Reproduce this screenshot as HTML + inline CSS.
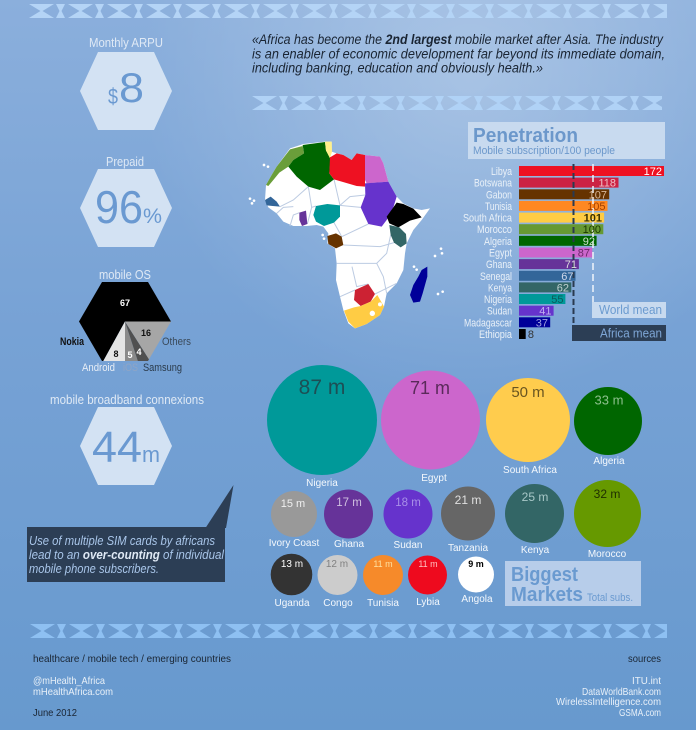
<!DOCTYPE html>
<html><head><meta charset="utf-8"><style>
html,body{margin:0;padding:0;background:#7aa3d5;}
svg{display:block;}
text{font-family:"Liberation Sans",sans-serif;}
</style></head><body>
<svg width="696" height="730" viewBox="0 0 696 730" xmlns="http://www.w3.org/2000/svg">
<defs>
<linearGradient id="bg" x1="0" y1="0" x2="0" y2="1">
<stop offset="0" stop-color="#8bafdc"/><stop offset="0.45" stop-color="#77a2d5"/><stop offset="1" stop-color="#6799ce"/>
</linearGradient>
<radialGradient id="hl" cx="470" cy="70" r="330" gradientUnits="userSpaceOnUse">
<stop offset="0" stop-color="#ffffff" stop-opacity="0.28"/><stop offset="1" stop-color="#ffffff" stop-opacity="0"/>
</radialGradient>
<pattern id="p1" x="27" y="4" width="39" height="14" patternUnits="userSpaceOnUse">
<polygon points="2,0 27,0 15.5,7 27,14 2,14 13.5,7" fill="#b4d4f6"/>
<polygon points="29,0 38,0 34.5,7 38,14 29,14 32.5,7" fill="#b4d4f6"/>
</pattern>
<pattern id="p2" x="250" y="96" width="39" height="14" patternUnits="userSpaceOnUse">
<polygon points="2,0 27,0 15.5,7 27,14 2,14 13.5,7" fill="#b0d2f6"/>
<polygon points="29,0 38,0 34.5,7 38,14 29,14 32.5,7" fill="#b0d2f6"/>
</pattern>
<pattern id="p3" x="28" y="624" width="39" height="14" patternUnits="userSpaceOnUse">
<polygon points="2,0 27,0 15.5,7 27,14 2,14 13.5,7" fill="#8ec0f2"/>
<polygon points="29,0 38,0 34.5,7 38,14 29,14 32.5,7" fill="#8ec0f2"/>
</pattern>
<clipPath id="hexclip"><polygon points="79,321.5 102,282 148,282 171,321.5 148,361 102,361"/></clipPath>
</defs>

<rect width="696" height="730" fill="url(#bg)"/>
<rect width="696" height="730" fill="url(#hl)"/>

<!-- strips -->
<rect x="27" y="4" width="640" height="14" fill="url(#p1)"/>
<rect x="250" y="96" width="412" height="14" fill="url(#p2)"/>
<rect x="28" y="624" width="639" height="14" fill="url(#p3)"/>

<!-- quote -->
<g font-style="italic" font-size="13.5" fill="#1a2533">
<text x="252" y="44" textLength="411" lengthAdjust="spacingAndGlyphs">«Africa has become the <tspan font-weight="bold">2nd largest</tspan> mobile market after Asia. The industry</text>
<text x="252" y="58.5" textLength="413" lengthAdjust="spacingAndGlyphs">is an enabler of economic development far beyond its immediate domain,</text>
<text x="252" y="72.5" textLength="291" lengthAdjust="spacingAndGlyphs">including banking, education and obviously health.»</text>
</g>

<!-- left column -->
<g fill="#dfe9f5" font-size="13">
<text x="89" y="47" textLength="74" lengthAdjust="spacingAndGlyphs">Monthly ARPU</text>
<text x="106" y="166" textLength="38" lengthAdjust="spacingAndGlyphs">Prepaid</text>
<text x="99" y="279" textLength="52" lengthAdjust="spacingAndGlyphs">mobile OS</text>
<text x="50" y="404" textLength="154" lengthAdjust="spacingAndGlyphs">mobile broadband connexions</text>
</g>
<polygon points="80,91 98,52 154,52 172,91 154,130 98,130" fill="#d3e2f3"/>
<polygon points="80,208 98,169 154,169 172,208 154,247 98,247" fill="#d3e2f3"/>
<polygon points="80,446 98,407 154,407 172,446 154,485 98,485" fill="#d3e2f3"/>
<g fill="#6a99d1">
<text x="108" y="104" font-size="22" textLength="10" lengthAdjust="spacingAndGlyphs">$</text>
<text x="119" y="102" font-size="42" textLength="25" lengthAdjust="spacingAndGlyphs">8</text>
<text x="95" y="223" font-size="46" textLength="48" lengthAdjust="spacingAndGlyphs">96</text>
<text x="143" y="223" font-size="21" textLength="19" lengthAdjust="spacingAndGlyphs">%</text>
<text x="92" y="462" font-size="44" textLength="50" lengthAdjust="spacingAndGlyphs">44</text>
<text x="142" y="462" font-size="22" textLength="18" lengthAdjust="spacingAndGlyphs">m</text>
</g>

<!-- OS pie -->
<g clip-path="url(#hexclip)">
<polygon points="125,321.5 245,321.5 125,201.5 5,321.5 67.2,426.7" fill="#000"/>
<polygon points="125,321.5 67.2,426.7 125,441.5" fill="#e4e4e4"/>
<polygon points="125,321.5 125,441.5 162.1,435.6" fill="#8a8a8a"/>
<polygon points="125,321.5 162.1,435.6 189.3,422.8" fill="#505050"/>
<polygon points="125,321.5 189.3,422.8 228.9,381.5 245,321.5" fill="#a6a6a6"/>
</g>
<g font-size="9" font-weight="bold" text-anchor="middle">
<text x="125" y="306" fill="#fff">67</text>
<text x="146" y="336" fill="#111">16</text>
<text x="116" y="357" fill="#111">8</text>
<text x="130" y="358" fill="#fff">5</text>
<text x="139" y="355" fill="#fff">4</text>
</g>
<g font-size="11">
<text x="60" y="345" fill="#111" font-weight="bold" textLength="24" lengthAdjust="spacingAndGlyphs">Nokia</text>
<text x="162" y="345" fill="#3a4a5a" textLength="29" lengthAdjust="spacingAndGlyphs">Others</text>
<text x="82" y="371" fill="#e8eef6" textLength="33" lengthAdjust="spacingAndGlyphs">Android</text>
<text x="123" y="371" fill="#8fa5c5" textLength="15" lengthAdjust="spacingAndGlyphs">iOS</text>
<text x="143" y="371" fill="#2a3a4a" textLength="39" lengthAdjust="spacingAndGlyphs">Samsung</text>
</g>

<!-- callout -->
<polygon points="205.5,528 233.5,485 226,528" fill="#2c3e55"/>
<rect x="27" y="527" width="198" height="55" fill="#2c3e55"/>
<g font-style="italic" font-size="12.5" fill="#a9c6ea">
<text x="29" y="545" textLength="186" lengthAdjust="spacingAndGlyphs">Use of multiple SIM cards by africans</text>
<text x="29" y="559" textLength="195" lengthAdjust="spacingAndGlyphs">lead to an <tspan font-weight="bold" fill="#dfe9f5">over-counting</tspan> of individual</text>
<text x="29" y="573" textLength="130" lengthAdjust="spacingAndGlyphs">mobile phone subscribers.</text>
</g>

<!-- map -->
<g transform="translate(240,120) scale(0.33333)">
<polygon fill="#fff" points="78,195 75,240 85,262 110,280 130,305 160,318 200,318 230,315 250,320 265,340 262,370 285,385 290,430 288,480 300,530 310,570 325,610 345,625 380,612 420,585 432,560 440,520 470,490 490,450 495,400 500,370 520,330 545,300 570,265 545,270 520,265 490,250 470,230 445,185 430,130 420,110 375,105 350,100 335,120 310,105 290,100 275,95 275,65 255,65 190,72 150,85 110,140 95,165"/>
<g fill="none" stroke="#bccbe2" stroke-width="3">
<polyline points="120,260 160,240 205,200"/>
<polyline points="205,200 215,262 228,258"/>
<polyline points="282,178 300,256"/>
<polyline points="300,256 362,262"/>
<polyline points="282,308 300,340 305,350"/>
<polyline points="305,350 385,312"/>
<polyline points="310,375 420,380 462,368"/>
<polyline points="290,430 410,430 440,400 452,345"/>
<polyline points="300,530 345,510"/>
<polyline points="405,522 470,490"/>
<polyline points="150,318 160,285 178,278"/>
<polyline points="202,312 215,262"/>
<polyline points="336,440 350,500 385,492"/>
<polyline points="410,430 430,470 440,520"/>
<polyline points="300,256 330,230 376,225"/>
<polyline points="110,280 130,262 160,260"/>
</g>
<polygon fill="#6a9e3a" points="78,195 95,165 110,140 150,88 188,78 192,100 160,120 145,140 118,158 100,180 85,198"/>
<polygon fill="#006600" points="145,140 160,120 192,100 188,75 255,66 258,92 272,112 268,160 282,178 240,210 205,200 170,170"/>
<polygon fill="#fff08a" points="255,65 275,65 276,95 270,115 258,92"/>
<polygon fill="#ee1122" points="270,112 290,100 310,105 335,120 350,100 375,105 375,200 350,198 282,178 268,160"/>
<polygon fill="#cc66cc" points="375,105 420,110 430,130 445,185 380,190 375,180"/>
<polygon fill="#6633cc" points="375,190 445,185 470,230 460,262 440,300 425,320 385,312 362,262 376,225"/>
<polygon fill="#000" points="460,262 470,248 490,252 520,266 545,292 510,302 475,322 448,310 440,290"/>
<polygon fill="#336666" points="448,315 478,322 498,342 500,370 482,382 462,368 452,345"/>
<polygon fill="#009999" points="228,258 262,252 300,256 300,290 282,308 252,318 228,305 220,285"/>
<polygon fill="#663399" points="178,278 198,272 202,312 186,318 178,300"/>
<polygon fill="#336699" points="75,240 92,230 110,245 120,260 98,258 80,256"/>
<polygon fill="#663300" points="262,348 288,340 305,350 310,375 288,385 265,372"/>
<polygon fill="#cc2233" points="345,510 385,492 405,522 392,545 362,558 342,540"/>
<polygon fill="#ffcc44" points="312,572 342,562 362,558 392,545 412,525 432,560 420,585 380,612 345,625 325,605"/>
<circle cx="397" cy="580" r="8" fill="#fff"/>
<circle cx="420" cy="553" r="6" fill="#fff"/>
<polygon fill="#000099" points="545,450 562,440 562,470 548,520 540,545 520,548 510,525 520,495 535,470"/>
<g fill="#fff">
<circle cx="72" cy="135" r="4"/><circle cx="84" cy="140" r="4"/>
<circle cx="30" cy="236" r="4"/><circle cx="42" cy="242" r="4"/><circle cx="36" cy="250" r="4"/>
<circle cx="248" cy="345" r="4"/><circle cx="252" cy="356" r="4"/>
<circle cx="603" cy="386" r="4"/><circle cx="585" cy="408" r="4"/><circle cx="606" cy="400" r="4"/>
<circle cx="522" cy="440" r="4"/><circle cx="530" cy="449" r="4"/>
<circle cx="594" cy="522" r="4"/><circle cx="608" cy="515" r="4"/>
</g>
</g>

<!-- penetration -->
<rect x="468" y="122" width="197" height="37" fill="#c8daef"/>
<text x="473" y="142" font-size="20" font-weight="bold" fill="#6c98cb" textLength="105" lengthAdjust="spacingAndGlyphs">Penetration</text>
<text x="473" y="154" font-size="11" fill="#6c98cb" textLength="142" lengthAdjust="spacingAndGlyphs">Mobile subscription/100 people</text>

<g>
<rect x="519" y="166" width="145" height="10" fill="#ee1122"/>
<rect x="519" y="177.6" width="99.5" height="10" fill="#cc2244"/>
<rect x="519" y="189.3" width="90.2" height="10" fill="#663300"/>
<rect x="519" y="200.9" width="88.5" height="10" fill="#ff8822"/>
<rect x="519" y="212.6" width="85.1" height="10" fill="#ffcc44"/>
<rect x="519" y="224.2" width="84.3" height="10" fill="#669933"/>
<rect x="519" y="235.8" width="77.6" height="10" fill="#006600"/>
<rect x="519" y="247.5" width="73.3" height="10" fill="#cc66cc"/>
<rect x="519" y="259.1" width="59.9" height="10" fill="#663399"/>
<rect x="519" y="270.8" width="56.5" height="10" fill="#336699"/>
<rect x="519" y="282.4" width="52.3" height="10" fill="#336666"/>
<rect x="519" y="294" width="46.4" height="10" fill="#009999"/>
<rect x="519" y="305.7" width="34.6" height="10" fill="#6633cc"/>
<rect x="519" y="317.3" width="31.2" height="10" fill="#000099"/>
<rect x="519" y="329" width="6.7" height="10" fill="#000"/>
</g>
<line x1="573.5" y1="164" x2="573.5" y2="326" stroke="#2a3a50" stroke-width="2" stroke-dasharray="6,3"/>
<line x1="593" y1="164" x2="593" y2="303" stroke="#f0f4fa" stroke-width="1.5" stroke-dasharray="7,4"/>

<g font-size="11" fill="#eaf1f8" text-anchor="end">
<text x="512" y="175" textLength="21" lengthAdjust="spacingAndGlyphs">Libya</text>
<text x="512" y="186.6" textLength="38" lengthAdjust="spacingAndGlyphs">Botswana</text>
<text x="512" y="198.3" textLength="26" lengthAdjust="spacingAndGlyphs">Gabon</text>
<text x="512" y="209.9" textLength="27" lengthAdjust="spacingAndGlyphs">Tunisia</text>
<text x="512" y="221.6" textLength="49" lengthAdjust="spacingAndGlyphs">South Africa</text>
<text x="512" y="233.2" textLength="35" lengthAdjust="spacingAndGlyphs">Morocco</text>
<text x="512" y="244.8" textLength="28" lengthAdjust="spacingAndGlyphs">Algeria</text>
<text x="512" y="256.5" textLength="23" lengthAdjust="spacingAndGlyphs">Egypt</text>
<text x="512" y="268.1" textLength="26" lengthAdjust="spacingAndGlyphs">Ghana</text>
<text x="512" y="279.8" textLength="32" lengthAdjust="spacingAndGlyphs">Senegal</text>
<text x="512" y="291.4" textLength="24" lengthAdjust="spacingAndGlyphs">Kenya</text>
<text x="512" y="303" textLength="28" lengthAdjust="spacingAndGlyphs">Nigeria</text>
<text x="512" y="314.7" textLength="25" lengthAdjust="spacingAndGlyphs">Sudan</text>
<text x="512" y="326.3" textLength="48" lengthAdjust="spacingAndGlyphs">Madagascar</text>
<text x="512" y="338" textLength="33" lengthAdjust="spacingAndGlyphs">Ethiopia</text>
</g>
<g font-size="11" text-anchor="end">
<text x="662" y="175" fill="#ffffff">172</text>
<text x="616" y="186.6" fill="#f0c0c8">118</text>
<text x="607" y="198.3" fill="#d8b898">107</text>
<text x="605.5" y="209.9" fill="#a04000">105</text>
<text x="602" y="221.6" fill="#3a3000" font-weight="bold">101</text>
<text x="601" y="233.2" fill="#1a3a00">100</text>
<text x="595" y="244.8" fill="#cce0cc">92</text>
<text x="590" y="256.5" fill="#6a2a6a">87</text>
<text x="577" y="268.1" fill="#dddddd">71</text>
<text x="573.5" y="279.8" fill="#cfd8ea">67</text>
<text x="569" y="291.4" fill="#c0d0d0">62</text>
<text x="563.5" y="303" fill="#0a5a5a">55</text>
<text x="551.5" y="314.7" fill="#c0b0f0">41</text>
<text x="548" y="326.3" fill="#a0a0e0">37</text>
<text x="534" y="338" fill="#333" text-anchor="end">8</text>
</g>
<rect x="592" y="302" width="74" height="16" fill="#c8daef"/>
<text x="662" y="314" font-size="12.5" fill="#6b9bd0" text-anchor="end" textLength="63" lengthAdjust="spacingAndGlyphs">World mean</text>
<rect x="572" y="325" width="94" height="16" fill="#2c3e55"/>
<text x="662" y="337.5" font-size="12.5" fill="#7ea6d6" text-anchor="end" textLength="62" lengthAdjust="spacingAndGlyphs">Africa mean</text>

<!-- bubbles -->
<circle cx="322" cy="420" r="55" fill="#009999"/>
<circle cx="430.5" cy="420" r="49.5" fill="#cc66cc"/>
<circle cx="528" cy="420" r="42" fill="#ffcc4d"/>
<circle cx="608" cy="421" r="34" fill="#006600"/>
<circle cx="294" cy="514" r="23" fill="#999999"/>
<circle cx="348.5" cy="514" r="24.5" fill="#663399"/>
<circle cx="408" cy="514" r="24.5" fill="#6633cc"/>
<circle cx="468" cy="513.5" r="27" fill="#666666"/>
<circle cx="534.5" cy="513.5" r="29.5" fill="#336666"/>
<circle cx="607.5" cy="513.5" r="33.5" fill="#669900"/>
<circle cx="291.5" cy="574.5" r="20.8" fill="#333333"/>
<circle cx="337.5" cy="575" r="20" fill="#cccccc"/>
<circle cx="383" cy="575" r="20" fill="#f68a2a"/>
<circle cx="427.5" cy="575" r="19.5" fill="#ee0a1e"/>
<circle cx="476" cy="574.5" r="18" fill="#ffffff"/>

<g text-anchor="middle">
<text x="322" y="394" font-size="21" fill="#1d4f55">87 m</text>
<text x="430" y="394" font-size="18" fill="#5a2a5a">71 m</text>
<text x="528" y="397" font-size="15" fill="#6a5520">50 m</text>
<text x="609" y="404.5" font-size="13" fill="#8cc08c">33 m</text>
<text x="293" y="507" font-size="11" fill="#f0f0f0">15 m</text>
<text x="349" y="506" font-size="11.5" fill="#d0c0e0">17 m</text>
<text x="408" y="506" font-size="11.5" fill="#a890e8">18 m</text>
<text x="468" y="504" font-size="12" fill="#e0e0e0">21 m</text>
<text x="535" y="501" font-size="12" fill="#a8c8c8">25 m</text>
<text x="607" y="498" font-size="12" fill="#1e2e00">32 m</text>
<text x="292" y="567" font-size="10" fill="#ffffff">13 m</text>
<text x="337" y="567" font-size="10" fill="#808080">12 m</text>
<text x="383" y="567" font-size="9" fill="#ffe0a0">11 m</text>
<text x="428" y="567" font-size="9" fill="#ffc0c0">11 m</text>
<text x="476" y="567" font-size="9" fill="#000" font-weight="bold">9 m</text>
</g>
<g text-anchor="middle" font-size="10" fill="#f4f8fc">
<text x="322" y="486">Nigeria</text>
<text x="434" y="481">Egypt</text>
<text x="530" y="473">South Africa</text>
<text x="609" y="464">Algeria</text>
<text x="294" y="546">Ivory Coast</text>
<text x="349" y="547">Ghana</text>
<text x="408" y="548">Sudan</text>
<text x="468" y="551">Tanzania</text>
<text x="535" y="553">Kenya</text>
<text x="607" y="557">Morocco</text>
<text x="292" y="606">Uganda</text>
<text x="338" y="606">Congo</text>
<text x="383" y="606">Tunisia</text>
<text x="428" y="605">Lybia</text>
<text x="477" y="602">Angola</text>
</g>
<rect x="505" y="561" width="136" height="45" fill="#b7cdea"/>
<text x="511" y="581" font-size="20" font-weight="bold" fill="#6a9ad0" textLength="67" lengthAdjust="spacingAndGlyphs">Biggest</text>
<text x="511" y="601" font-size="20" font-weight="bold" fill="#6a9ad0" textLength="72" lengthAdjust="spacingAndGlyphs">Markets</text>
<text x="587" y="601" font-size="11" fill="#6a9ad0" textLength="46" lengthAdjust="spacingAndGlyphs">Total subs.</text>

<!-- footer -->
<g font-size="10.5">
<text x="33" y="662" fill="#1a2533" textLength="198" lengthAdjust="spacingAndGlyphs">healthcare / mobile tech / emerging countries</text>
<text x="33" y="684" fill="#e8f0f8" textLength="72" lengthAdjust="spacingAndGlyphs">@mHealth_Africa</text>
<text x="33" y="695" fill="#e8f0f8" textLength="80" lengthAdjust="spacingAndGlyphs">mHealthAfrica.com</text>
<text x="33" y="716" fill="#1a2533" textLength="44" lengthAdjust="spacingAndGlyphs">June 2012</text>
<text x="661" y="662" fill="#1a2533" text-anchor="end" textLength="33" lengthAdjust="spacingAndGlyphs">sources</text>
<text x="661" y="684" fill="#e8f0f8" text-anchor="end" textLength="29" lengthAdjust="spacingAndGlyphs">ITU.int</text>
<text x="661" y="695" fill="#e8f0f8" text-anchor="end" textLength="79" lengthAdjust="spacingAndGlyphs">DataWorldBank.com</text>
<text x="661" y="705" fill="#e8f0f8" text-anchor="end" textLength="105" lengthAdjust="spacingAndGlyphs">WirelessIntelligence.com</text>
<text x="661" y="716" fill="#e8f0f8" text-anchor="end" textLength="42" lengthAdjust="spacingAndGlyphs">GSMA.com</text>
</g>
</svg>
</body></html>
